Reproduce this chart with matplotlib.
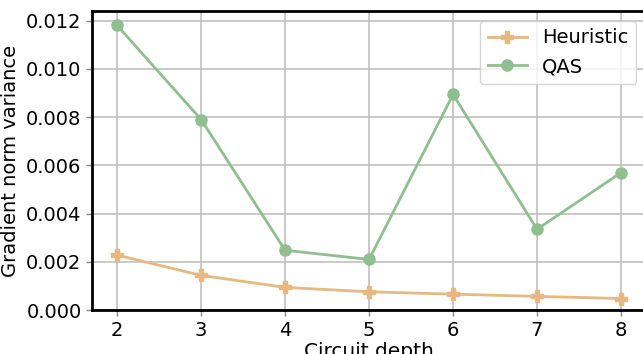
import numpy as np
from matplotlib import pyplot as plt

depth = [2, 3, 4, 5, 6, 7, 8]
heuristic = [0.00228, 0.00144, 0.00094, 0.00076, 0.00066, 0.00057, 0.00048]
qas = [0.0118, 0.0079, 0.00248, 0.0021, 0.00894, 0.00335, 0.0057]

fig = plt.figure(figsize=(6.43, 3.54), dpi=100)
ax = fig.add_axes([0.143, 0.124, 0.862, 0.845])

ax.plot(depth, heuristic, color='#e5b981', marker='P', markersize=8, lw=2, label='Heuristic')
ax.plot(depth, qas, color='#8fbf8f', marker='o', markersize=8, lw=2, label='QAS')

ax.set_xlim(1.7, 8.3)
ax.set_ylim(0, 0.0124)
yt = np.arange(0, 0.0121, 0.002)
ax.set_yticks(yt)
ax.set_yticklabels(['%.3f' % v for v in yt])
ax.grid(True, color='#c0c0c0', lw=1.2)
ax.set_axisbelow(True)
for s in ax.spines.values():
    s.set_linewidth(2)
ax.tick_params(labelsize=14, width=1, length=4, color='#888888')
ax.set_xlabel('Circuit depth', fontsize=14.5, labelpad=2)
ax.set_ylabel('Gradient norm variance', fontsize=14)
ax.legend(loc='upper right', fontsize=14, framealpha=0.8)

fig.savefig('out.png', dpi=100)
